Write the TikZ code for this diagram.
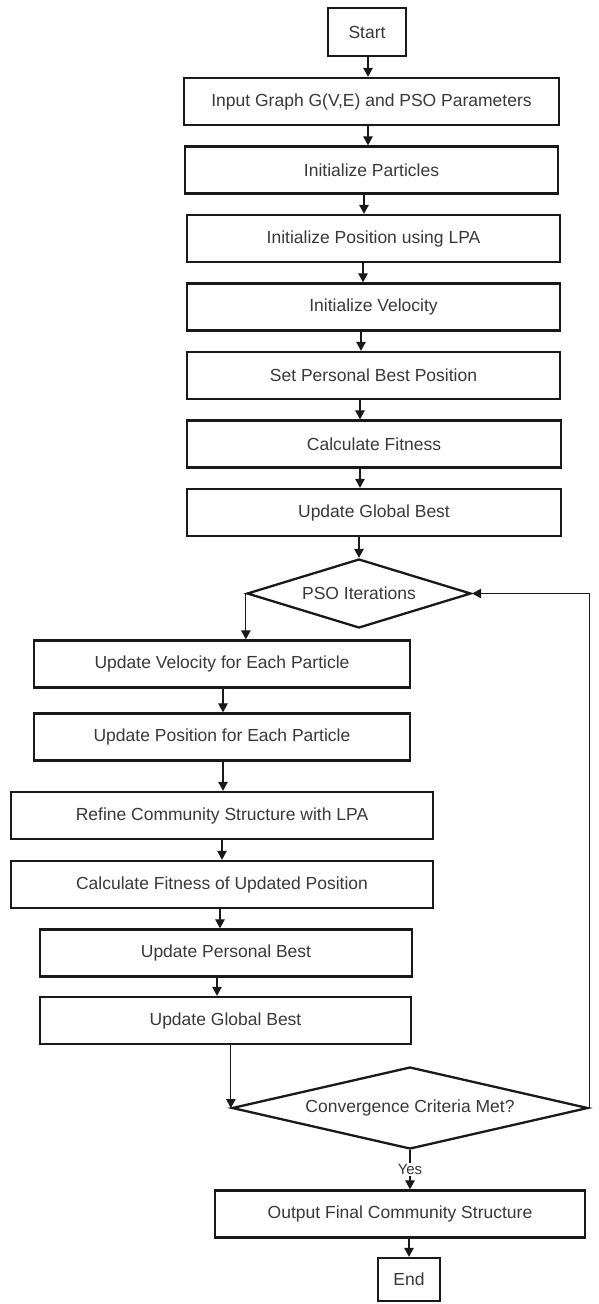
\documentclass[tikz,border=0pt]{standalone}
\usepackage{fontspec}
\setmainfont{Liberation Sans}
\usetikzlibrary{arrows.meta,shapes.geometric}

\begin{document}
\begin{tikzpicture}[
  x=1pt, y=-1pt,
  txt/.style={text=black!78, font=\fontsize{17.5}{21}\selectfont},
  stepbox/.style={txt, draw=black!90, line width=2.3pt, rectangle, inner sep=0pt, minimum height=47pt},
  decision/.style={txt, draw=black!90, line width=2.3pt, diamond, inner sep=0pt},
  arr/.style={draw=black!90, line width=1.2pt, -{Triangle[length=9pt,width=9.5pt]}},
  flowlabel/.style={text=black!78, font=\fontsize{15}{17}\selectfont, fill=white, inner sep=1.5pt}
]
\useasboundingbox (0,0) rectangle (599,1304);

% initialisation phase
\node[stepbox, minimum width=78pt, minimum height=48pt] (start) at (367,32) {Start};
\node[stepbox, minimum width=375pt] (input)     at (371.5,101.5) {Input Graph G(V,E) and PSO Parameters};
\node[stepbox, minimum width=373pt] (particles) at (371.5,170)   {Initialize Particles};
\node[stepbox, minimum width=373pt] (initpos)   at (373.5,238.5) {Initialize Position using LPA};
\node[stepbox, minimum width=373pt] (initvel)   at (373.5,307)   {Initialize Velocity};
\node[stepbox, minimum width=373pt] (setpb)     at (373.5,375.5) {Set Personal Best Position};
\node[stepbox, minimum width=374pt] (fitness)   at (374,444)     {Calculate Fitness};
\node[stepbox, minimum width=374pt] (gbest)     at (374,512.5)   {Update Global Best};

% iteration loop
\node[decision, minimum width=224pt, minimum height=69pt, aspect=3.2] (pso) at (359,593.5) {PSO Iterations};
\node[stepbox, minimum width=376pt] (updvel)   at (222,664)    {Update Velocity for Each Particle};
\node[stepbox, minimum width=376pt] (updpos)   at (222,737)    {Update Position for Each Particle};
\node[stepbox, minimum width=422pt] (refine)   at (222,815.5)  {Refine Community Structure with LPA};
\node[stepbox, minimum width=422pt] (calcfit)  at (222,884.5)  {Calculate Fitness of Updated Position};
\node[stepbox, minimum width=372pt] (updpb)    at (226,953)    {Update Personal Best};
\node[stepbox, minimum width=371pt] (updgb)    at (225.5,1020.5) {Update Global Best};
\node[decision, minimum width=356pt, minimum height=82pt, aspect=4.3] (conv) at (410,1108) {Convergence Criteria Met?};

% result
\node[stepbox, minimum width=370pt] (output) at (400,1214) {Output Final Community Structure};
\node[stepbox, minimum width=62pt, minimum height=43pt] (end) at (409,1279.5) {End};

% connectors of the initialisation phase
\draw[arr] (start.south -| 368,0) -- (input.north -| 368,0);
\draw[arr] (input.south -| 368,0) -- (particles.north -| 368,0);
\draw[arr] (particles.south -| 364,0) -- (initpos.north -| 364,0);
\draw[arr] (initpos.south -| 363,0) -- (initvel.north -| 363,0);
\draw[arr] (initvel.south -| 361,0) -- (setpb.north -| 361,0);
\draw[arr] (setpb.south -| 360,0) -- (fitness.north -| 360,0);
\draw[arr] (fitness.south -| 360,0) -- (gbest.north -| 360,0);
\draw[arr] (gbest.south -| pso.north) -- (pso.north);

% connectors of the loop
\draw[arr] (pso.west) -- (pso.west |- updvel.north);
\draw[arr] (updvel.south -| 223,0) -- (updpos.north -| 223,0);
\draw[arr] (updpos.south -| 223,0) -- (refine.north -| 223,0);
\draw[arr] (refine.south -| 222,0) -- (calcfit.north -| 222,0);
\draw[arr] (calcfit.south -| 220,0) -- (updpb.north -| 220,0);
\draw[arr] (updpb.south -| 217,0) -- (updgb.north -| 217,0);
\draw[arr] (updgb.south -| conv.west) -- (conv.west);
\draw[arr] (conv.east) |- (pso.east);

% exit
\draw[arr] (conv.south) -- node[flowlabel] {Yes} (conv.south |- output.north);
\draw[arr] (output.south -| end.north) -- (end.north);
\end{tikzpicture}
\end{document}
